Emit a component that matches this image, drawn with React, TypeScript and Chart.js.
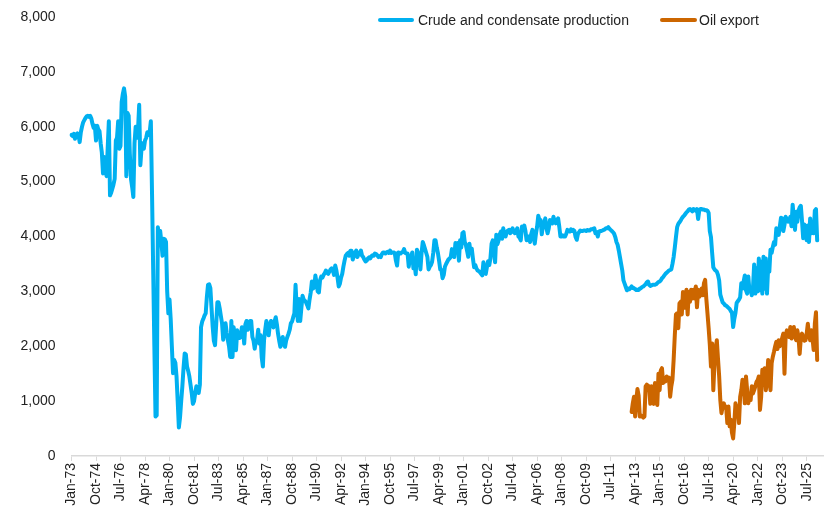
import React, { useEffect, useRef } from 'react';
import { Chart, registerables } from 'chart.js';

Chart.register(...registerables);

// ---- categories (monthly axis) ----
const MONTH_NAMES = ['Jan', 'Feb', 'Mar', 'Apr', 'May', 'Jun', 'Jul', 'Aug', 'Sep', 'Oct', 'Nov', 'Dec'];
const START_YEAR = 1973;
const AXIS_MONTHS = 645;
const TICK_EVERY = 21;
const EXPORT_START_LABEL = 'Jan-13';
const Y_MAX = 8000;
const Y_STEP = 1000;

// ---- Crude and condensate production (kb/d), monthly from Jan-73 ----
const prod1970s = [
  5850, 5830, 5870, 5780, 5860, 5880, 5860, 5720, 5900, 6000, 6080, 6120,
  6160, 6190, 6200, 6180, 6200, 6150, 6050, 5980, 6020, 5750, 6020, 5950,
  5920, 5700, 5530, 5150, 5450, 5300, 5100, 5600, 6100, 4750, 4800, 4870,
  4950, 5050, 5750, 5800, 6100, 5600, 5650, 6450, 6600, 6700, 6550, 5100,
  6250, 6200, 5500, 5050, 4900, 4720, 5700, 6000, 5800, 5950, 6400, 5300,
  5600, 5700, 5600, 5750, 5800, 5900, 5850, 5900, 6100, 4800, 3400, 2000,
  720, 740, 4170, 4000, 4100, 3900, 3650, 3960, 3950, 3900, 3000, 2600,
];
const prod1980s = [
  2850, 2500, 2000, 1510, 1750, 1700, 1450, 1000, 520, 700, 1000, 1270,
  1600, 1870, 1850, 1630, 1550, 1450, 1300, 1150, 950, 1000, 1140, 1270,
  1200, 1150, 1300, 2350, 2450, 2500, 2560, 2600, 2900, 3120, 3130, 3060,
  2700, 2350, 2100, 2020, 2400, 2800, 2800, 2690, 2550, 2420, 2120, 2300,
  2420, 2250, 2110, 2000, 1806, 2460, 1806, 2345, 2100, 1927, 2290, 2200,
  2150, 2170, 2345, 2300, 2050, 2400, 2460, 2300, 2345, 2460, 2460, 2170,
  2100, 1957, 2100, 2110, 2300, 2050, 2200, 1800, 1630, 2110, 2300, 2460,
  2300, 2200, 2400, 2460, 2400, 2345, 2450, 2530, 2400, 2230, 2100, 1990,
  2050, 2170, 2050, 1990, 2110, 2170, 2230, 2300, 2420, 2450, 2530, 2600,
  3121, 2700, 2460, 2860, 2460, 2700, 2920, 2850, 2830, 2800, 2750, 2690,
];
const prod1990s = [
  2850, 2980, 3180, 3050, 3080, 3290, 3150, 3000, 2980, 3200, 3270, 3250,
  3300, 3330, 3380, 3340, 3320, 3360, 3400, 3420, 3380, 3300, 3470, 3380,
  3250, 3090, 3140, 3250, 3320, 3450, 3560, 3650, 3680, 3700, 3650, 3740,
  3740, 3580, 3650, 3700, 3745, 3625, 3680, 3700, 3745, 3650, 3625, 3580,
  3545, 3560, 3600, 3620, 3600, 3640, 3660, 3650, 3690, 3680, 3660, 3625,
  3640, 3625, 3680, 3710, 3710, 3690, 3710, 3720, 3700, 3745, 3700, 3710,
  3710, 3700, 3560, 3470, 3710, 3700, 3690, 3710, 3720, 3770, 3700, 3690,
  3690, 3450, 3600, 3625, 3710, 3420, 3500, 3310, 3760, 3700, 3625, 3400,
  3700, 3900, 3840, 3770, 3700, 3625, 3400, 3450, 3480, 3540, 3700, 3930,
  3930, 3800, 3700, 3560, 3400, 3390, 3240, 3300, 3450, 3500, 3540, 3580,
];
const prod2000s = [
  3600, 3625, 3770, 3700, 3625, 3880, 3820, 3880, 3560, 3930, 3800, 4060,
  4080, 3900, 3840, 3740, 3630, 3870, 3700, 3780, 3600, 3440, 3480, 3420,
  3380, 3370, 3350, 3320, 3290, 3530, 3330, 3320, 3440, 3550, 3480, 3600,
  3870, 3930, 3760, 3530, 4030, 3860, 3930, 4040, 4090, 3960, 4150, 4040,
  4000, 4080, 4110, 4120, 4060, 4100, 4150, 4080, 4060, 4100, 4150, 4000,
  3980, 3930, 4180, 4150, 4200, 4100, 3930, 4000, 4000, 3900, 4050, 4120,
  4000, 3870, 4050, 4180, 4380, 4300, 4300, 4040, 4200, 4240, 4330, 4150,
  4060, 4150, 4300, 4250, 4240, 4360, 4280, 4240, 4300, 4330, 4180, 4000,
  4000, 4020, 4000, 4000, 4050, 4120, 4100, 4090, 4130, 4100, 4120, 4100,
  3990, 3940, 4050, 4080, 4110, 4100, 4100, 4110, 4110, 4100, 4120, 4110,
];
const prod2010s = [
  4110, 4130, 4130, 4140, 4150, 4060, 4080, 4000, 4090, 4100, 4100, 4110,
  4120, 4130, 4150, 4150, 4170, 4140, 4120, 4100, 4080, 4050, 3990, 3900,
  3850, 3745, 3625, 3500, 3380, 3200, 3140, 3080, 3020, 3050, 3040, 3060,
  3090, 3060, 3060, 3040, 3025, 3030, 3025, 3050, 3060, 3080, 3090, 3110,
  3130, 3165, 3180, 3120, 3100, 3110, 3120, 3120, 3120, 3130, 3150, 3170,
  3180, 3200, 3240, 3260, 3290, 3320, 3340, 3360, 3380, 3390, 3400, 3500,
  3625, 3800, 3990, 4170, 4230, 4260, 4290, 4330, 4360, 4380, 4410, 4440,
  4460, 4490, 4500, 4480, 4460, 4500, 4490, 4470, 4500, 4320, 4480, 4500,
  4500, 4490, 4490, 4480, 4480, 4470, 4430, 4100, 3990, 3700, 3440, 3400,
  3380, 3360, 3300, 3200, 2940, 2870, 2800, 2780, 2750, 2740, 2720, 2700,
];
const prod2020s = [
  2680, 2640, 2610, 2350, 2500, 2610, 2790, 2820, 2850, 2890, 3150, 3050,
  3180, 3290, 3020, 2960, 3270, 3010, 3020, 2930, 3070, 3490, 2960, 3420,
  3000, 3600, 3020, 3540, 2960, 3630, 3050, 3600, 2960, 3440, 3360, 3760,
  3700, 3810, 3900, 3850, 4150, 4060, 4030, 4180, 4340, 4330, 4100, 4210,
  4360, 4310, 4270, 4280, 4360, 4185, 4580, 4330, 4120, 4450, 4270, 4470,
  4530, 4560, 4290, 3970, 4220, 4150, 3930, 4200, 3900, 4330, 4060, 4100,
  4060, 4470, 4500, 3930,
];

// ---- Oil export (kb/d), monthly from Jan-13 ----
const export2010s = [
  800, 960, 1080, 720, 1020, 1220, 1100, 720, 740, 720, 700, 720,
  1270, 1300, 1280, 1270, 950, 1270, 1100, 950, 1330, 1250, 930, 1500,
  1200, 1560, 1600, 1330, 1420, 1360, 1450, 1400, 1430, 1080, 1270, 1390,
  1750, 2200, 2580, 2600, 2330, 2780, 2810, 2580, 2990, 2870, 2700, 3030,
  2580, 2990, 2810, 3030, 2870, 3030, 2870, 3090, 2710, 3030, 2900, 2930,
  3050, 2930, 3150, 3210, 2870, 2600, 2330, 2030, 1630, 2050, 1200, 1690,
  1960, 2110, 1780, 1460, 1020, 780, 900, 960, 880, 900, 600, 900,
];
const export2020s = [
  540, 660, 420, 320, 600, 960, 720, 900, 600, 1080, 1200, 1390,
  1300, 960, 1450, 1200, 960, 1100, 1020, 1270, 1140, 1200, 1270, 1350,
  1380, 1450, 840, 1080, 1570, 1450, 1600, 1200, 1350, 1750, 1450, 1200,
  1690, 1810, 1900, 2000, 2080, 1950, 2110, 2000, 2050, 2150, 2230, 1500,
  2200, 2290, 2260, 2170, 2350, 2140, 2250, 2350, 2180, 2110, 2290, 2170,
  1860, 2150, 2230, 2170, 2100, 2110, 2230, 2410, 2200, 2110, 2290, 2150,
  1930, 2410, 2620, 1750,
];

const SERIES_NAMES = ['Crude and condensate production', 'Oil export'];
const COLORS = ['#00B0F0', '#CC6600'];
const FONT_FAMILY = '"Liberation Sans", Arial, Helvetica, sans-serif';
const TEXT_COLOR = '#222222';

const labels: string[] = Array.from({ length: AXIS_MONTHS }, (_, i) => {
  const yy = String((START_YEAR + Math.floor(i / 12)) % 100).padStart(2, '0');
  return `${MONTH_NAMES[i % 12]}-${yy}`;
});

const production = [...prod1970s, ...prod1980s, ...prod1990s, ...prod2000s, ...prod2010s, ...prod2020s];
const exportStart = labels.indexOf(EXPORT_START_LABEL);
const exportsAll: (number | null)[] = [
  ...new Array(exportStart).fill(null),
  ...export2010s,
  ...export2020s,
];

export default function App() {
  const canvasRef = useRef<HTMLCanvasElement | null>(null);

  useEffect(() => {
    if (!canvasRef.current) return;
    Chart.defaults.font.family = FONT_FAMILY;
    Chart.defaults.color = TEXT_COLOR;
    const chart = new Chart(canvasRef.current, {
      type: 'line',
      data: {
        labels,
        datasets: [
          {
            label: SERIES_NAMES[0],
            data: production,
            borderColor: COLORS[0],
            backgroundColor: COLORS[0],
          },
          {
            label: SERIES_NAMES[1],
            data: exportsAll,
            borderColor: COLORS[1],
            backgroundColor: COLORS[1],
          },
        ],
      },
      options: {
        responsive: false,
        animation: false,
        layout: { padding: { top: 17, right: 13, left: 0, bottom: 0 } },
        plugins: { legend: { display: false }, tooltip: { enabled: false } },
        elements: {
          point: { radius: 0, hoverRadius: 0 },
          line: { tension: 0, borderWidth: 4, borderJoinStyle: 'round', borderCapStyle: 'round' },
        },
        scales: {
          x: {
            type: 'category',
            grid: { display: true, drawOnChartArea: false, drawTicks: true, tickLength: 5, color: '#D9D9D9' },
            border: { display: true, color: '#D9D9D9', width: 1.5 },
            ticks: {
              autoSkip: false,
              maxRotation: 90,
              minRotation: 90,
              padding: 2,
              color: TEXT_COLOR,
              font: { size: 14, family: FONT_FAMILY },
            },
            afterBuildTicks: (scale: any) => {
              scale.ticks = scale.ticks.filter((t: any) => t.value % TICK_EVERY === 0);
            },
            afterFit: (scale: any) => {
              scale.height = 55;
            },
          },
          y: {
            min: 0,
            max: Y_MAX,
            ticks: {
              stepSize: Y_STEP,
              padding: 0,
              color: TEXT_COLOR,
              font: { size: 14, family: FONT_FAMILY },
            },
            grid: {
              display: true,
              drawOnChartArea: false,
              drawTicks: true,
              tickLength: 16,
              color: 'rgba(0,0,0,0)',
            },
            border: { display: false },
            afterFit: (scale: any) => {
              scale.width = 71.5;
            },
          },
        },
      },
    });
    return () => chart.destroy();
  }, []);

  const legendText: React.CSSProperties = {
    position: 'absolute',
    top: 11,
    fontFamily: FONT_FAMILY,
    fontSize: 14,
    lineHeight: '18px',
    color: TEXT_COLOR,
    whiteSpace: 'nowrap',
  };
  const legendBar = (left: number, width: number, color: string): React.CSSProperties => ({
    position: 'absolute',
    left,
    top: 18,
    width,
    height: 4,
    borderRadius: 2,
    background: color,
  });

  return (
    <div style={{ position: 'fixed', left: 0, top: 0, width: 836, height: 511, background: '#fff' }}>
      <canvas ref={canvasRef} width={836} height={511} style={{ width: 836, height: 511, display: 'block' }} />
      <div style={legendBar(378, 36, COLORS[0])} />
      <div style={{ ...legendText, left: 418 }}>{SERIES_NAMES[0]}</div>
      <div style={legendBar(660, 37, COLORS[1])} />
      <div style={{ ...legendText, left: 699 }}>{SERIES_NAMES[1]}</div>
    </div>
  );
}
